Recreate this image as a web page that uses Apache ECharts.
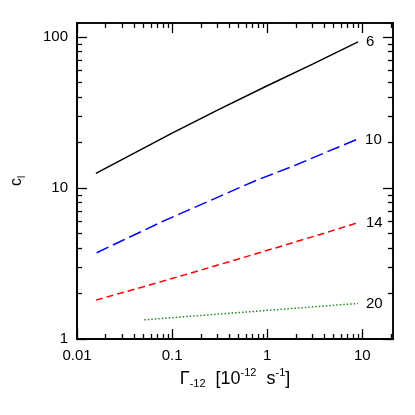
<!DOCTYPE html>
<html>
<head>
<meta charset="utf-8">
<script src="https://cdn.jsdelivr.net/npm/echarts@6/dist/echarts.min.js"></script>
<style>
  html, body { margin: 0; padding: 0; background: #fff; }
  #chart { width: 415px; height: 415px; }
</style>
</head>
<body>
<div id="chart"></div>
<script>
// curve labels
var curveNames = ['6', '10', '14', '20']
// Gamma_-12 values for each curve
var x6 = [0.0158, 0.03, 0.1, 0.3, 1, 3, 9]
var y6 = [12.5, 15.5, 23.1, 32.8, 47.6, 66.2, 93]
var x10 = [0.0161, 0.03, 0.078, 0.15, 0.284, 0.78, 2, 4, 8.8]
var y10 = [3.73, 4.49, 5.98, 7.17, 8.55, 11.3, 14.2, 17.1, 21.0]
var x14 = [0.0158, 0.05, 0.15, 0.5, 1.5, 4, 9.0]
var y14 = [1.81, 2.22, 2.71, 3.39, 4.17, 5.03, 5.90]
var x20 = [0.051, 0.3, 2, 9.0]
var y20 = [1.34, 1.46, 1.60, 1.72]
// ticks
var xMajor = [0.01, 0.1, 1, 10]
var xMinor = [0.02, 0.03, 0.04, 0.05, 0.06, 0.07, 0.08, 0.09, 0.2, 0.3, 0.4, 0.5, 0.6, 0.7, 0.8, 0.9, 2, 3, 4, 5, 6, 7, 8, 9, 20]
var yMajor = [1, 10, 100]
var yMinor = [2, 3, 4, 5, 6, 7, 8, 9, 20, 30, 40, 50, 60, 70, 80, 90]
var xRange = [0.01, 21]
var yRange = [1, 124]

var font = 'Liberation Sans'
var myChart = echarts.init(document.getElementById('chart'))

// log10 coordinates (the axes are linear in log10 space)
function lg (v) { return Math.log10(v) }

function pairs (xs, ys) {
  return xs.map(function (x, i) { return [lg(x), lg(ys[i])] })
}

function fmt (v) {
  return String(+Math.pow(10, v).toPrecision(3))
}

var box = { left: 77, right: 22, top: 23, bottom: 76 }

// axis that only draws a frame side with its ticks
function tickAxis (grid, pos, range, ticks, len) {
  return {
    type: 'value',
    gridIndex: grid,
    position: pos,
    min: lg(range[0]),
    max: lg(range[1]),
    axisLine: { show: true, onZero: false, lineStyle: { color: '#000', width: 1.5 } },
    axisTick: { show: true, inside: true, length: len, customValues: ticks.map(lg), lineStyle: { color: '#000', width: 1.3 } },
    axisLabel: { show: true, formatter: function () { return '' } },
    splitLine: { show: false }
  }
}
function hiddenAxis (grid) {
  return { type: 'value', gridIndex: grid, show: false, min: 1, max: 2, axisLine: { onZero: false } }
}

var xName = {
  name: '{n|Γ}{sub|-12}{n|  [10}{sup|-12}{n|  s}{sup|-1}{n|]}',
  nameLocation: 'middle',
  nameGap: 27,
  nameTextStyle: {
    rich: {
      n: { fontFamily: font, fontSize: 18, color: '#000', lineHeight: 22, verticalAlign: 'middle' },
      sub: { fontFamily: font, fontSize: 11, color: '#000', lineHeight: 22, verticalAlign: 'bottom' },
      sup: { fontFamily: font, fontSize: 11, color: '#000', lineHeight: 22, verticalAlign: 'top' }
    }
  }
}
var yName = {
  name: '{n|c}{sub|l}',
  nameLocation: 'middle',
  nameGap: 50,
  nameTextStyle: {
    rich: {
      n: { fontFamily: font, fontSize: 16, color: '#000', lineHeight: 20, verticalAlign: 'middle' },
      sub: { fontFamily: font, fontSize: 10, color: '#000', lineHeight: 20, verticalAlign: 'bottom' }
    }
  }
}

// data axes (grid 0): labels + names
function dataAxis (pos, range, labels, extra) {
  return Object.assign({
    type: 'value',
    gridIndex: 0,
    position: pos,
    min: lg(range[0]),
    max: lg(range[1]),
    axisLine: { show: true, onZero: false, lineStyle: { color: '#000', width: 1.5 } },
    axisTick: { show: false },
    axisLabel: { show: true, customValues: labels.map(lg), formatter: fmt, color: '#000', fontFamily: font, fontSize: 15, margin: 9 },
    splitLine: { show: false }
  }, extra)
}

var grids = []
for (var g = 0; g < 9; g++) grids.push(Object.assign({}, box))

var xAxes = [
  dataAxis('bottom', xRange, xMajor, xName),
  tickAxis(1, 'bottom', xRange, xMajor, 10),
  tickAxis(2, 'bottom', xRange, xMinor, 5),
  tickAxis(3, 'top', xRange, xMajor, 10),
  tickAxis(4, 'top', xRange, xMinor, 5),
  hiddenAxis(5), hiddenAxis(6), hiddenAxis(7), hiddenAxis(8)
]
var yAxes = [
  dataAxis('left', yRange, yMajor, yName),
  hiddenAxis(1), hiddenAxis(2), hiddenAxis(3), hiddenAxis(4),
  tickAxis(5, 'left', yRange, yMajor, 10),
  tickAxis(6, 'left', yRange, yMinor, 5),
  tickAxis(7, 'right', yRange, yMajor, 10),
  tickAxis(8, 'right', yRange, yMinor, 5)
]

var styles = [
  { color: '#000000', type: 'solid' },
  { color: '#0000ff', type: [13, 5] },
  { color: '#ff0000', type: [7, 4] },
  { color: '#1f8a1f', type: [1.5, 2] }
]
var datas = [pairs(x6, y6), pairs(x10, y10), pairs(x14, y14), pairs(x20, y20)]

var option = {
  animation: false,
  grid: grids,
  xAxis: xAxes,
  yAxis: yAxes,
  series: datas.map(function (d, i) {
    return {
      type: 'line',
      name: curveNames[i],
      data: d,
      xAxisIndex: 0,
      yAxisIndex: 0,
      showSymbol: false,
      symbol: 'none',
      lineStyle: { color: styles[i].color, type: styles[i].type, width: 1.5 },
      endLabel: {
        show: true,
        formatter: curveNames[i],
        distance: 8,
        color: '#000',
        fontFamily: font,
        fontSize: 15
      }
    }
  })
}

myChart.setOption(option)
</script>
</body>
</html>
